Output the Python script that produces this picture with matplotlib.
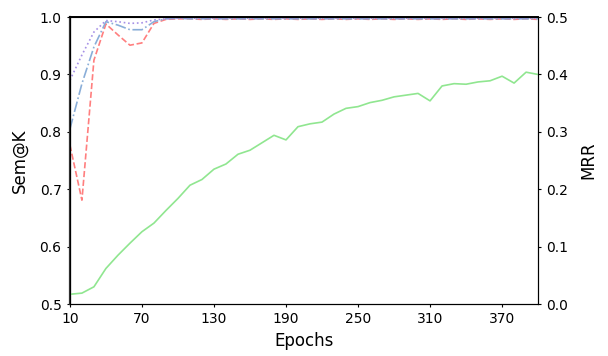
import matplotlib
matplotlib.use("Agg")
import matplotlib.pyplot as plt

epochs = list(range(10, 401, 10))

# Sem@K curves (left axis)
sem_red = [0.777, 0.681, 0.925, 0.988, 0.969, 0.951, 0.955, 0.989, 0.996, 0.997,
           0.997, 0.996, 0.997, 0.996, 0.997, 0.996, 0.997, 0.996, 0.997, 0.996,
           0.997, 0.996, 0.997, 0.996, 0.997, 0.996, 0.997, 0.996, 0.997, 0.996,
           0.997, 0.996, 0.997, 0.996, 0.997, 0.996, 0.997, 0.996, 0.997, 0.996]
sem_blue = [0.805, 0.884, 0.948, 0.992, 0.986, 0.978, 0.978, 0.992, 0.997, 0.998,
            0.997, 0.997, 0.997, 0.997, 0.997, 0.997, 0.997, 0.997, 0.997, 0.997,
            0.997, 0.997, 0.997, 0.997, 0.997, 0.997, 0.997, 0.997, 0.997, 0.997,
            0.997, 0.997, 0.997, 0.997, 0.997, 0.997, 0.997, 0.997, 0.997, 0.997]
sem_purple = [0.890, 0.934, 0.974, 0.994, 0.992, 0.989, 0.990, 0.995, 0.997, 0.998,
              0.998, 0.998, 0.998, 0.998, 0.998, 0.998, 0.998, 0.998, 0.998, 0.998,
              0.998, 0.998, 0.998, 0.998, 0.998, 0.998, 0.998, 0.998, 0.998, 0.998,
              0.998, 0.998, 0.998, 0.998, 0.998, 0.998, 0.998, 0.998, 0.998, 0.998]

# MRR (right axis)
mrr = [0.017, 0.019, 0.030, 0.062, 0.085, 0.106, 0.126, 0.141, 0.163, 0.184,
       0.207, 0.217, 0.235, 0.244, 0.261, 0.268, 0.281, 0.294, 0.286, 0.309,
       0.314, 0.317, 0.331, 0.341, 0.344, 0.351, 0.355, 0.361, 0.364, 0.367,
       0.354, 0.380, 0.384, 0.383, 0.387, 0.389, 0.397, 0.385, 0.404, 0.400]

fig = plt.figure(figsize=(6.08, 3.56), dpi=100)
ax = fig.add_axes([0.115, 0.146, 0.77, 0.806])
ax.plot(epochs, sem_red, color='#ff7f7f', linestyle='--', linewidth=1.2)
ax.plot(epochs, sem_blue, color='#8aaed8', linestyle='-.', linewidth=1.2)
ax.plot(epochs, sem_purple, color='#a690e6', linestyle=':', linewidth=1.2)
ax.set_xlim(10, 400)
ax.set_ylim(0.5, 1.0)
ax.set_xticks(range(10, 400, 60))
ax.set_yticks([0.5, 0.6, 0.7, 0.8, 0.9, 1.0])
ax.set_xlabel('Epochs', fontsize=12)
ax.set_ylabel('Sem@K', fontsize=12, labelpad=8)
ax.tick_params(labelsize=10, length=2.5)
ax.spines['left'].set_linewidth(1.6)
ax.spines['left'].set_color('#333333')
ax.spines['top'].set_linewidth(1.4)

ax2 = ax.twinx()
ax2.plot(epochs, mrr, color='#90e690', linewidth=1.2)
ax2.set_ylim(0, 0.5)
ax2.set_yticks([0.0, 0.1, 0.2, 0.3, 0.4, 0.5])
ax2.set_ylabel('MRR', fontsize=12, labelpad=8)
ax2.tick_params(labelsize=10, length=2.5)

fig.savefig('out.png', dpi=100)
